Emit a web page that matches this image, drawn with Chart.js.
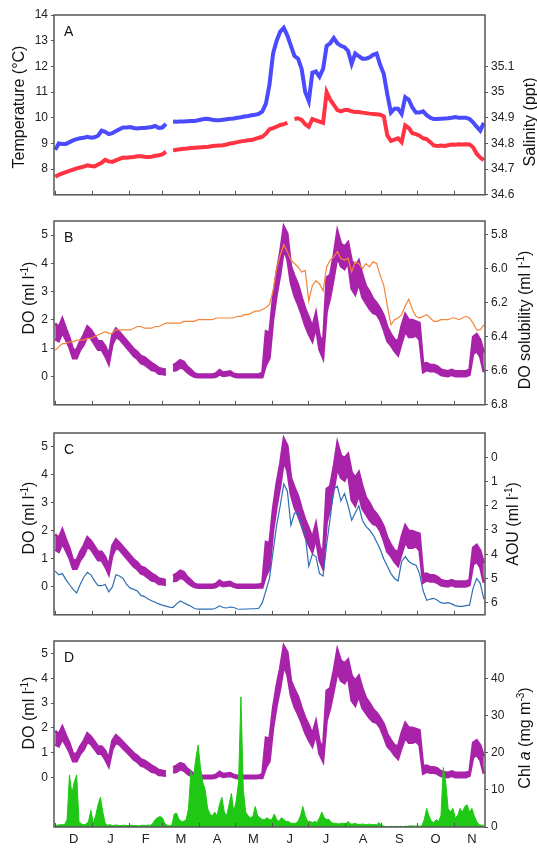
<!DOCTYPE html>
<html>
<head>
<meta charset="utf-8">
<script src="https://cdn.jsdelivr.net/npm/chart.js@4.4.1/dist/chart.umd.min.js"></script>
<style>
  body { margin: 0; background: #fff; }
  #wrap { position: relative; width: 537px; height: 848px; }
  .panel { position: absolute; left: 0; width: 537px; }
</style>
</head>
<body>
<div id="wrap">
  <div class="panel" style="top:0;height:205px"><canvas id="panelA"></canvas></div>
  <div class="panel" style="top:205px;height:210px"><canvas id="panelB"></canvas></div>
  <div class="panel" style="top:415px;height:210px"><canvas id="panelC"></canvas></div>
  <div class="panel" style="top:625px;height:223px"><canvas id="panelD"></canvas></div>
</div>
<script>
// days since 1 December
const sampleDays = [0,3,6,9,12,15,18,21,24,27,30,33,36,39,42,45,48,51,54,57,60,63,66,69,72,75,78,81,84,87,
  90,93,96,99,102,105,108,111,114,117,120,123,126,129,132,135,138,141,144,147,150,153,156,159,162,165,168,171,174,177,
  180,183,186,189,192,195,198,201,204,207,210,213,216,219,222,225,228,231,234,237,240,243,246,249,252,255,258,261,264,267,
  270,273,276,279,282,285,288,291,294,297,300,303,306,309,312,315,318,321,324,327,330,333,336,339,342,345,348,351,354,357,360];

const temperature = [7.70,7.78,7.83,7.88,7.93,7.98,8.03,8.06,8.10,8.15,
  8.12,8.10,8.18,8.25,8.36,8.30,8.28,8.34,8.40,8.45,
  8.44,8.46,8.47,8.50,8.50,8.48,8.47,8.48,8.52,8.54,
  8.57,8.68,null,8.73,8.75,8.77,8.79,8.80,8.82,8.83,
  8.84,8.85,8.86,8.87,8.90,8.91,8.92,8.93,8.96,9.00,
  9.02,9.05,9.08,9.10,9.12,9.13,9.18,9.22,9.26,9.38,
  9.55,9.60,9.65,9.72,9.75,9.80,null,9.95,9.98,9.92,
  9.75,9.65,9.95,9.90,9.85,9.80,11.0,10.7,10.5,10.3,
  10.25,10.30,10.30,10.25,10.22,10.22,10.20,10.18,10.16,10.15,
  10.14,10.12,10.05,9.30,9.10,9.15,9.20,9.05,9.70,9.60,
  9.40,9.36,9.30,9.20,9.17,9.05,8.92,8.90,8.92,8.90,
  8.93,8.96,8.95,8.97,8.96,8.97,8.96,8.85,8.60,8.45,
  8.35];

const salinity = [34.775,34.800,34.798,34.798,34.805,34.812,34.817,34.820,34.822,34.826,
  34.822,34.824,34.830,34.850,34.845,34.836,34.840,34.848,34.855,34.862,
  34.862,34.864,34.860,34.858,34.860,34.860,34.862,34.864,34.868,34.860,
  34.862,34.876,null,34.885,34.884,34.885,34.885,34.886,34.887,34.887,
  34.890,34.893,34.896,34.895,34.892,34.890,34.890,34.892,34.894,34.896,
  34.897,34.900,34.902,34.905,34.907,34.910,34.912,34.915,34.925,34.955,
  35.030,35.150,35.200,35.235,35.250,35.220,35.180,35.140,35.130,35.090,
  35.000,34.965,35.075,35.080,35.060,35.090,35.180,35.190,35.210,35.190,
  35.180,35.175,35.160,35.110,35.150,35.140,35.130,35.130,35.135,35.145,
  35.150,35.105,35.070,34.990,34.920,34.935,34.935,34.915,34.980,34.970,
  34.940,34.920,34.920,34.925,34.910,34.900,34.895,34.895,34.896,34.897,
  34.898,34.900,34.903,34.900,34.900,34.900,34.895,34.882,34.865,34.850,
  34.880];

const dissolvedO2 = [1.60,1.50,1.80,1.50,1.20,0.80,0.80,1.10,1.30,1.60,
  1.50,1.30,1.10,1.10,0.90,0.60,1.30,1.55,1.45,1.30,
  1.15,1.00,0.85,0.75,0.60,0.55,0.45,0.35,0.30,0.20,
  0.18,0.15,null,0.30,0.35,0.45,0.40,0.25,0.15,0.05,
  0.02,0.02,0.02,0.02,0.02,0.05,0.15,0.08,0.10,0.12,
  0.05,0.02,0.02,0.02,0.02,0.02,0.02,0.03,0.05,1.00,
  1.10,2.40,3.30,4.00,4.90,4.60,3.60,3.20,2.90,2.50,
  2.10,1.80,1.50,2.00,1.20,0.90,2.90,3.20,3.90,4.70,
  4.30,4.20,4.40,3.60,3.40,3.70,3.20,2.90,2.70,2.50,
  2.40,2.20,1.90,1.50,1.30,1.10,1.00,1.50,1.90,1.70,
  1.70,1.70,1.60,0.30,0.35,0.30,0.30,0.25,0.15,0.12,
  0.10,0.15,0.10,0.10,0.10,0.10,0.15,1.10,1.20,1.00,
  0.50];

// full height of the scattered DO band around each reading
const o2Spread = [0.55,0.50,0.50,0.40,0.35,0.30,0.30,0.30,0.35,0.35,
  0.30,0.30,0.30,0.30,0.35,0.30,0.35,0.30,0.25,0.25,
  0.25,0.25,0.25,0.25,0.25,0.25,0.25,0.25,0.20,0.20,
  0.18,0.18,null,0.20,0.25,0.25,0.25,0.20,0.18,0.12,
  0.10,0.10,0.10,0.10,0.10,0.12,0.15,0.12,0.12,0.12,
  0.10,0.10,0.10,0.10,0.10,0.10,0.10,0.10,0.15,1.20,
  0.90,0.80,0.80,0.80,0.80,0.90,0.60,0.70,0.70,0.60,
  0.60,0.60,0.50,0.50,0.50,0.50,1.20,0.80,0.80,0.90,
  0.80,0.80,0.70,1.00,1.00,0.80,0.80,0.60,0.60,0.50,
  0.40,0.40,0.50,0.50,0.40,0.40,0.50,0.60,0.60,0.60,
  0.60,0.50,0.60,0.30,0.25,0.22,0.22,0.22,0.20,0.18,
  0.18,0.18,0.18,0.18,0.18,0.18,0.18,0.60,0.60,0.60,
  0.70];

const o2Solubility = [6.48,6.46,6.44,6.44,6.43,6.43,6.42,6.42,6.42,6.41,
  6.41,6.40,6.39,6.38,6.37,6.38,6.38,6.36,6.36,6.36,
  6.36,6.36,6.35,6.34,6.34,6.35,6.35,6.35,6.34,6.34,
  6.33,6.32,6.32,6.32,6.32,6.32,6.31,6.31,6.31,6.31,
  6.30,6.30,6.30,6.30,6.30,6.29,6.29,6.29,6.29,6.29,
  6.29,6.28,6.28,6.27,6.27,6.26,6.25,6.25,6.24,6.23,
  6.21,6.13,6.00,5.92,5.86,5.90,5.95,5.97,5.99,6.02,
  6.01,6.19,6.10,6.07,6.09,6.13,5.99,5.95,5.93,5.90,
  5.94,5.95,5.94,6.02,5.96,5.97,6.00,5.97,5.99,5.96,
  5.97,6.04,6.10,6.22,6.33,6.30,6.29,6.27,6.22,6.18,
  6.24,6.28,6.29,6.28,6.27,6.29,6.31,6.31,6.30,6.30,
  6.30,6.29,6.29,6.30,6.29,6.28,6.29,6.32,6.36,6.36,
  6.33];

const aou = [4.70,4.85,4.80,5.05,5.25,5.45,5.60,5.25,4.95,4.75,
  4.85,5.10,5.30,5.30,5.25,5.55,5.35,4.85,4.90,5.00,
  5.25,5.40,5.45,5.52,5.70,5.75,5.85,5.92,5.98,6.05,
  6.10,6.14,6.18,6.20,6.05,5.93,6.00,6.08,6.15,6.24,
  6.27,6.27,6.27,6.27,6.27,6.22,6.13,6.20,6.22,6.18,
  6.20,6.26,6.27,6.26,6.26,6.25,6.25,6.23,6.00,5.50,
  5.00,3.90,2.80,2.00,1.10,1.40,2.80,2.30,2.30,2.80,
  3.20,4.50,4.00,4.10,4.80,4.90,3.60,2.50,1.30,1.20,
  1.80,1.50,2.00,2.60,2.30,2.00,2.60,2.85,3.00,3.20,
  3.50,3.80,4.20,4.50,4.80,5.00,5.10,4.30,4.10,4.30,
  4.40,4.45,4.80,5.50,5.90,5.85,5.82,5.90,6.00,6.03,
  6.00,6.05,6.12,6.15,6.15,6.12,6.10,5.40,5.00,5.20,
  5.85];

// chlorophyll is read on a 2-day grid
const chlDays = [0,2,4,6,8,10,12,14,16,18,20,22,24,26,28,30,32,34,36,38,40,42,44,46,48,50,52,54,56,58,
  60,62,64,66,68,70,72,74,76,78,80,82,84,86,88,90,92,94,96,98,100,102,104,106,108,110,112,114,116,118,
  120,122,124,126,128,130,132,134,136,138,140,142,144,146,148,150,152,154,156,158,160,162,164,166,168,170,172,174,176,178,
  180,182,184,186,188,190,192,194,196,198,200,202,204,206,208,210,212,214,216,218,220,222,224,226,228,230,232,234,236,238,
  240,242,244,246,248,250,252,254,256,258,260,262,264,266,268,270,272,274,276,278,280,282,284,286,288,290,292,294,296,298,
  300,302,304,306,308,310,312,314,316,318,320,322,324,326,328,330,332,334,336,338,340,342,344,346,348,350,352,354,356,358,360];

const chlorophyll = [0.5,0.5,0.6,0.6,0.7,2,14,9,12,14,
  1.5,0.8,0.6,0.8,1.5,4.5,1,3,6,8,
  4,1,0.5,0.6,0.4,0.5,0.5,0.4,0.4,0.5,
  0.4,0.4,0.5,0.4,0.4,0.3,0.4,0.5,0.4,0.5,
  0.5,1,2,2.5,2.8,2.5,1,0.5,0.3,0.5,
  3.5,3.7,2,1.5,1.5,2,5,15,13,18,
  22,16,12,10,5,3.5,3,4,3,6,
  8,4,3,6,9,4,7,12,35,10,
  4,3,2.5,2.8,5.5,3,2.5,2,2,2.5,
  2,2,3.5,2,1.5,2.5,2,1.5,1.5,1,
  1,1,1.5,3,5.5,3,1.5,1.5,1.2,1.5,
  1.2,2.5,4,2.5,2,2,1.2,1,1,0.8,
  1,1,0.8,1.5,0.8,0.8,1,0.7,0.7,0.8,
  0.7,0.6,0.8,0.6,0.7,0.6,1.2,0.5,0.2,0.1,
  0.1,0.2,0.1,0.2,0.1,0.2,0.1,0.2,0.2,0.3,
  0.3,0.2,0.3,0.2,0.3,2,5,3,1.5,1.2,
  2,1.5,3,16,12,5,4,5,2.5,3,
  5,4,5.5,6,4,5,3,1.5,0.6,0.5,
  0.5];

const monthStarts = [0,31,62,90,121,151,182,212,243,274,304,335];
const monthMids = [15.5,46.5,76,105.5,136,166.5,197,227.5,258.5,289,319.5,350];
const monthLetters = ['D','J','F','M','A','M','J','J','A','S','O','N'];

const tempTicks = [8,9,10,11,12,13,14];
const salTicks = [34.6,34.7,34.8,34.9,35,35.1];
const doTicks = [0,1,2,3,4,5];
const solTicks = [5.8,6.0,6.2,6.4,6.6,6.8];
const aouTicks = [0,1,2,3,4,5,6];
const chlTicks = [0,10,20,30,40];

const FONT = '"Liberation Sans", Arial, sans-serif';
Chart.defaults.font.family = FONT;

const RED = '#ff3341', BLUE = '#4a4aff', PURPLE = '#a823aa', ORANGE = '#f3853a', AOUBLUE = '#2d6fb2', GREEN = '#1ec814';

// frame, inward month ticks, panel letter and axis titles
const framePlugin = {
  id: 'frame',
  afterDraw(chart, args, opts) {
    const ctx = chart.ctx, a = chart.chartArea, x = chart.scales.x;
    ctx.save();
    ctx.strokeStyle = '#555';
    ctx.lineWidth = 1.5;
    ctx.strokeRect(a.left, a.top, a.right - a.left, a.bottom - a.top);
    ctx.lineWidth = 1;
    monthStarts.forEach(d => {
      const px = Math.round(x.getPixelForValue(d)) + 0.5;
      ctx.beginPath();
      ctx.moveTo(px, a.bottom);
      ctx.lineTo(px, a.bottom - 4);
      ctx.stroke();
    });
    ctx.fillStyle = '#111';
    ctx.font = '14px ' + FONT;
    ctx.textBaseline = 'middle';
    ctx.fillText(opts.letter, a.left + 10, a.top + 17);
    opts.titles.forEach(t => drawTitle(ctx, t));
    ctx.restore();
  }
};

function drawTitle(ctx, t) {
  const parts = t.parts.map(p => {
    const f = (p.italic ? 'italic ' : '') + (p.sup ? '10px ' : '16px ') + FONT;
    ctx.font = f;
    return { text: p.text, font: f, sup: p.sup, w: ctx.measureText(p.text).width };
  });
  const total = parts.reduce((s, p) => s + p.w, 0);
  ctx.save();
  ctx.translate(t.x, t.y);
  ctx.rotate(-Math.PI / 2);
  ctx.textBaseline = 'alphabetic';
  ctx.textAlign = 'left';
  ctx.fillStyle = '#111';
  let cx = -total / 2;
  parts.forEach(p => {
    ctx.font = p.font;
    ctx.fillText(p.text, cx, p.sup ? -6 : 0);
    cx += p.w;
  });
  ctx.restore();
}

const doTitle = [{ text: 'DO (ml l' }, { text: '-1', sup: true }, { text: ')' }];

function yAxis(position, min, max, ticks, opts) {
  opts = opts || {};
  return {
    type: 'linear',
    position: position,
    min: min,
    max: max,
    reverse: !!opts.reverse,
    afterBuildTicks: s => { s.ticks = ticks.map(v => ({ value: v })); },
    afterFit: s => { s.width = position === 'left' ? 54 : 52; },
    grid: { drawOnChartArea: false, drawTicks: true, tickLength: 3, color: '#555', lineWidth: 1 },
    border: { display: false },
    ticks: {
      autoSkip: false,
      color: '#222',
      padding: 3,
      font: { size: 12 },
      callback: opts.fmt || (v => String(v))
    },
    title: { display: false }
  };
}

function xAxis(height, showMonths) {
  return {
    type: 'linear',
    min: -1,
    max: 361,
    afterBuildTicks: s => { s.ticks = monthMids.map(v => ({ value: v })); },
    afterFit: s => { s.height = height; },
    grid: { display: false, drawTicks: false },
    border: { display: false },
    ticks: {
      display: showMonths,
      autoSkip: false,
      maxRotation: 0,
      padding: 5,
      color: '#222',
      font: { size: 13 },
      callback: (v, i) => monthLetters[i]
    }
  };
}

function series(xs, ys, color, width, axis, extra) {
  return Object.assign({
    data: xs.map((x, i) => ({ x: x, y: ys[i] })),
    borderColor: color,
    backgroundColor: color,
    borderWidth: width,
    yAxisID: axis,
    pointRadius: 0,
    tension: 0,
    fill: false
  }, extra || {});
}

// DO drawn as a filled band: upper edge, then lower edge filled up to it
function o2Band(axis) {
  const hi = dissolvedO2.map((v, i) => v === null ? null : v + o2Spread[i] / 2);
  const lo = dissolvedO2.map((v, i) => v === null ? null : v - o2Spread[i] / 2);
  return [
    series(sampleDays, hi, PURPLE, 2.5, axis),
    series(sampleDays, lo, PURPLE, 2.5, axis, { fill: '-1' })
  ];
}

function makeChart(id, padTop, xHeight, showMonths, datasets, y, y2, frame) {
  return new Chart(document.getElementById(id), {
    type: 'line',
    data: { datasets: datasets },
    options: {
      responsive: true,
      maintainAspectRatio: false,
      animation: false,
      layout: { padding: { top: padTop, left: 0, right: 0, bottom: 0 } },
      plugins: { legend: { display: false }, tooltip: { enabled: false }, filler: { propagate: false }, frame: frame },
      scales: { x: xAxis(xHeight, showMonths), y: y, y2: y2 }
    },
    plugins: [framePlugin]
  });
}

// title positions are in each panel's own canvas coordinates

// A: temperature and salinity
makeChart('panelA', 15, 7, false,
  [
    series(sampleDays, temperature, RED, 4, 'y'),
    series(sampleDays, salinity, BLUE, 4, 'y2')
  ],
  yAxis('left', 7, 14, tempTicks),
  yAxis('right', 34.6, 35.3, salTicks),
  { letter: 'A', titles: [
    { x: 24, y: 107, parts: [{ text: 'Temperature (°C)' }] },
    { x: 535, y: 122, parts: [{ text: 'Salinity (ppt)' }] }
  ] });

// B: DO and DO solubility
makeChart('panelB', 16, 7, false,
  [series(sampleDays, o2Solubility, ORANGE, 1.2, 'y2')].concat(o2Band('y')),
  yAxis('left', -1, 5.5, doTicks),
  yAxis('right', 5.72, 6.8, solTicks, { reverse: true, fmt: v => v.toFixed(1) }),
  { letter: 'B', titles: [
    { x: 34, y: 93, parts: doTitle },
    { x: 530, y: 115, parts: [{ text: 'DO solubility (ml l' }, { text: '-1', sup: true }, { text: ')' }] }
  ] });

// C: DO and AOU
makeChart('panelC', 18, 9, false,
  [series(sampleDays, aou, AOUBLUE, 1.2, 'y2')].concat(o2Band('y')),
  yAxis('left', -1, 5.5, doTicks),
  yAxis('right', -1, 6.5, aouTicks, { reverse: true }),
  { letter: 'C', titles: [
    { x: 34, y: 103, parts: doTitle },
    { x: 518, y: 109, parts: [{ text: 'AOU (ml l' }, { text: '-1', sup: true }, { text: ')' }] }
  ] });

// D: DO and chlorophyll a
makeChart('panelD', 16, 21, true,
  [series(chlDays, chlorophyll, GREEN, 1, 'y2', { fill: 'origin' })].concat(o2Band('y')),
  yAxis('left', -2, 5.5, doTicks),
  yAxis('right', 0, 50, chlTicks),
  { letter: 'D', titles: [
    { x: 34, y: 88, parts: doTitle },
    { x: 530, y: 113, parts: [{ text: 'Chl ' }, { text: 'a', italic: true }, { text: ' (mg m' }, { text: '-3', sup: true }, { text: ')' }] }
  ] });
</script>
</body>
</html>
